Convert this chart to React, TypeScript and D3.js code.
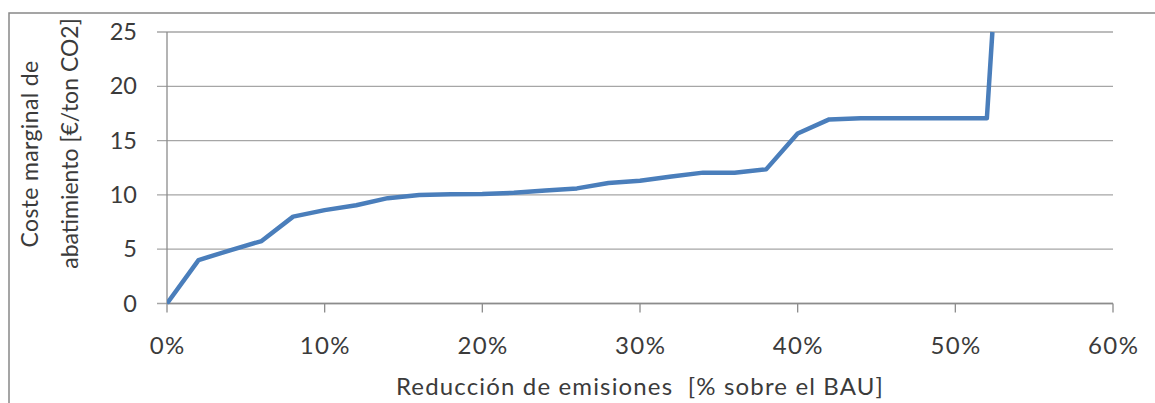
import React from "react";
import * as d3 from "d3";

const reductionPct: number[] = [0, 2, 4, 6, 8, 10, 12, 14, 16, 18, 20, 22, 24, 26, 28, 30, 32, 34, 36, 38, 40, 42, 44, 46, 48, 50, 52, 52.35];
const marginalCost: number[] = [0, 4.0, 4.9, 5.75, 8.0, 8.6, 9.05, 9.7, 10.0, 10.05, 10.08, 10.2, 10.4, 10.6, 11.1, 11.3, 11.7, 12.05, 12.05, 12.35, 15.65, 16.95, 17.05, 17.05, 17.05, 17.05, 17.05, 25];
const yTicks: number[] = [0, 5, 10, 15, 20, 25];
const xTicks: number[] = [0, 10, 20, 30, 40, 50, 60];
const yTitleLines: string[] = ["Coste marginal de", "abatimiento [€/ton CO2]"];
const xTitle = "Reducción de emisiones  [% sobre el BAU]";

const W = 1155;
const H = 403;
const plot = { left: 167, right: 1113, top: 32, bottom: 303.5 };
const FONT = "Lato, 'Open Sans', sans-serif";
const TEXT = "#3b3b3b";

export default function App() {
  const x = d3.scaleLinear().domain([0, 60]).range([plot.left, plot.right]);
  const y = d3.scaleLinear().domain([0, 25]).range([plot.bottom, plot.top]);
  const pts: [number, number][] = reductionPct.map((p, i) => [p, marginalCost[i]]);
  const line = d3
    .line<[number, number]>()
    .x((d) => x(d[0]))
    .y((d) => y(d[1]));

  return (
    <svg
      width={W}
      height={H}
      style={{ position: "absolute", left: 0, top: 0, background: "#fff" }}
      fontFamily={FONT}
    >
      <rect x={9} y={13} width={1400} height={600} fill="#fff" stroke="#888" strokeWidth={1.5} />
      <defs>
        <clipPath id="plotClip">
          <rect x={plot.left} y={plot.top - 1} width={plot.right - plot.left} height={plot.bottom - plot.top + 2} />
        </clipPath>
      </defs>
      {yTicks.map((t) => (
        <line key={"g" + t} x1={plot.left - 10} x2={plot.right} y1={y(t)} y2={y(t)} stroke="#a6a6a6" strokeWidth={1.3} />
      ))}
      <line x1={plot.left} x2={plot.left} y1={plot.top} y2={plot.bottom} stroke="#8c8c8c" strokeWidth={1.3} />
      {xTicks.map((t) => (
        <line key={"xt" + t} x1={x(t)} x2={x(t)} y1={plot.bottom} y2={plot.bottom + 9} stroke="#8c8c8c" strokeWidth={1.3} />
      ))}
      <line x1={plot.left} x2={plot.right} y1={plot.bottom} y2={plot.bottom} stroke="#8c8c8c" strokeWidth={1.3} />
      {yTicks.map((t) => (
        <text key={"yl" + t} x={137} y={y(t) + 8} textAnchor="end" fontSize={23.5} fill={TEXT}>
          {t}
        </text>
      ))}
      {xTicks.map((t) => (
        <text key={"xl" + t} x={x(t) + 0.7} y={354} textAnchor="middle" fontSize={24} letterSpacing={1.4} fill={TEXT}>
          {t + "%"}
        </text>
      ))}
      <path
        d={line(pts) || ""}
        fill="none"
        stroke="#4a7ebb"
        strokeWidth={4.5}
        strokeLinejoin="round"
        clipPath="url(#plotClip)"
      />
      <text x={640} y={395} textAnchor="middle" fontSize={24} letterSpacing={1.15} fill={TEXT} style={{ whiteSpace: "pre" }}>
        {xTitle}
      </text>
      <text transform={`translate(38,154) rotate(-90)`} textAnchor="middle" fontSize={23} letterSpacing={0.35} fill={TEXT}>
        {yTitleLines[0]}
      </text>
      <text transform={`translate(78,143.5) rotate(-90)`} textAnchor="middle" fontSize={23} fill={TEXT}>
        {yTitleLines[1]}
      </text>
    </svg>
  );
}
